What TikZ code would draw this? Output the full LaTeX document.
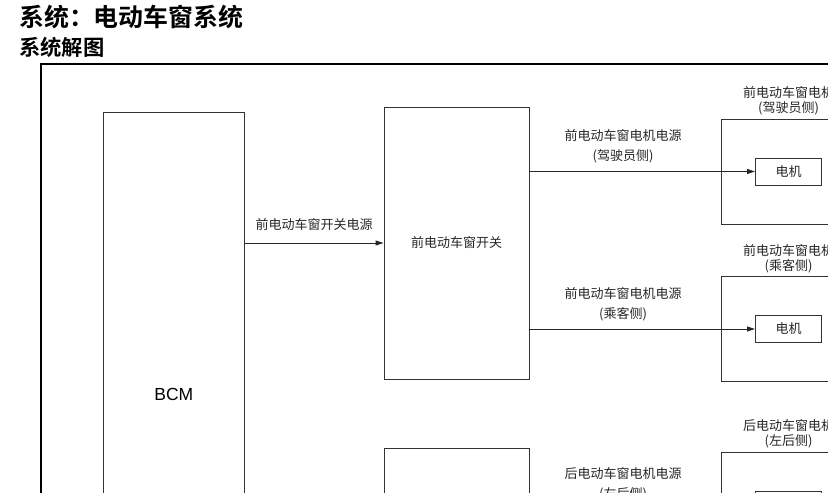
\documentclass[tikz,border=0pt]{standalone}
\usepackage{fontspec}
\setmainfont{Liberation Sans}
\newfontfamily\cjk{Noto Sans CJK SC}[BoldFont={Noto Sans CJK SC Bold}]
\usetikzlibrary{arrows.meta, positioning}

\begin{document}
\begin{tikzpicture}[
  x=1pt, y=-1pt,
  lbl/.style={font=\cjk\fontsize{13}{15}\selectfont, text=black!85, inner sep=0pt, align=center},
  pwr/.style={lbl, font=\cjk\fontsize{13}{19.6}\selectfont},
  box/.style={draw=black!80, line width=0.9pt, inner sep=0pt},
  unit/.style={box, minimum width=135pt, minimum height=105pt},
  motor/.style={box, lbl, minimum width=66pt, minimum height=27pt},
  arr/.style={-{Triangle[length=8pt,width=5pt]}, line width=0.9pt, draw=black!85},
]
\useasboundingbox (0,0) rectangle (828,493);
\clip (0,0) rectangle (828,493);

% --- headings ---
\node[anchor=west, inner sep=0pt, font=\cjk\bfseries\fontsize{24.9}{27}\selectfont] (title) at (19,17) {系统：电动车窗系统};
\node[anchor=west, inner sep=0pt, font=\cjk\bfseries\fontsize{21.3}{23}\selectfont] (sub) at (19,47) {系统解图};

% --- frame ---
\node[draw, line width=2pt, anchor=north west, minimum width=900pt, minimum height=700pt] (frame) at (40,63) {};

% --- BCM and switches ---
\node[box, minimum width=141pt, minimum height=564pt, font=\fontsize{17.5}{20}\selectfont] (bcm) at (173.8,394) {BCM};
\node[box, lbl, minimum width=145pt, minimum height=272pt] (fsw) at (456.5,243) {前电动车窗开关};
\node[box, minimum width=145pt, minimum height=272pt] (rsw) at (456.5,584) {};

\draw[arr] (bcm.east |- fsw.west) -- (fsw.west);
\node[lbl] (fswp) at (314,225) {前电动车窗开关电源};

% --- window motors ---
\node[unit] (m1) at (788.5,171.5) {};
\node[unit] (m2) at (788.5,329) {};
\node[unit] (m3) at (788.5,504.5) {};
\node[motor] (mot1) at (m1.center) {电机};
\node[motor] (mot2) at (m2.center) {电机};
\node[motor] (mot3) at (m3.center) {电机};
\node[lbl, above=3pt of m1] (t1) {前电动车窗电机\\(驾驶员侧)};
\node[lbl, above=3pt of m2] (t2) {前电动车窗电机\\(乘客侧)};
\node[lbl, above=3pt of m3] (t3) {后电动车窗电机\\(左后侧)};

% --- motor power feeds ---
\draw[arr] (fsw.east |- mot1.west) -- (mot1.west);
\draw[arr] (fsw.east |- mot2.west) -- (mot2.west);
\draw[arr] (rsw.east |- mot3.west) -- (mot3.west);
\node[pwr] (p1) at (623,146) {前电动车窗电机电源\\(驾驶员侧)};
\node[pwr] (p2) at (623,304) {前电动车窗电机电源\\(乘客侧)};
\node[pwr] (p3) at (623,484) {后电动车窗电机电源\\(左后侧)};
\end{tikzpicture}
\end{document}
